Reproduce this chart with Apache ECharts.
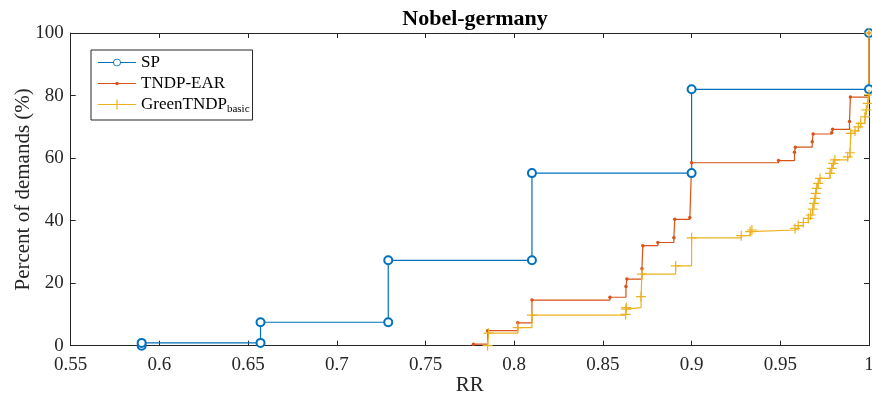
<!DOCTYPE html>
<html>
<head>
<meta charset="utf-8">
<script src="https://cdn.jsdelivr.net/npm/echarts@6/dist/echarts.min.js"></script>
<style>html,body{margin:0;padding:0;background:#fff}#c{width:872px;height:403px}</style>
</head>
<body>
<div id="c"></div>
<script>
// ---- data ----
const xTicks = [0.55, 0.6, 0.65, 0.7, 0.75, 0.8, 0.85, 0.9, 0.95, 1];
const yTicks = [0, 20, 40, 60, 80, 100];

const spX = [0.59, 0.59, 0.657, 0.657, 0.729, 0.729, 0.81, 0.81, 0.9, 0.9, 1.0, 1.0];
const spY = [0, 0.9, 0.9, 7.5, 7.5, 27.3, 27.3, 55.2, 55.2, 82, 82, 100];

const earX = [0.777, 0.785, 0.802, 0.81, 0.854, 0.863, 0.8635, 0.872, 0.8725, 0.881, 0.890, 0.8905,
              0.899, 0.9, 0.949, 0.958, 0.9585, 0.968, 0.9685, 0.979, 0.9795, 0.989, 0.9895, 1.0];
const earY = [0.5, 4.8, 7.3, 14.6, 15.5, 18.9, 21.3, 24.6, 32.0, 33.0, 34.5, 40.4,
              41.0, 58.5, 59.2, 61.9, 63.5, 65.2, 67.7, 68.1, 69.2, 71.7, 79.5, 100];

const greenX = [0.785, 0.7855, 0.802, 0.81, 0.8628, 0.863, 0.8632, 0.8715, 0.872, 0.891, 0.90,
                0.928, 0.933, 0.934, 0.9583, 0.9601, 0.963, 0.9658, 0.9671, 0.9683, 0.969, 0.9696,
                0.970, 0.9705, 0.9714, 0.9724, 0.978, 0.979, 0.9799, 0.9808, 0.988, 0.9893, 0.9897,
                0.9921, 0.994, 0.9953, 0.9977, 0.9985, 0.9993, 1.0, 1.0];
const greenY = [0, 4.0, 5.8, 9.8, 10.0, 11.7, 12.2, 15.7, 22.9, 25.5, 34.5,
                35.2, 36.5, 37.0, 37.5, 38.4, 39.4, 40.7, 41.8, 43.7, 45.5, 47.1,
                48.7, 50.3, 51.9, 53.5, 55.1, 56.7, 58.3, 59.4, 60.4, 61.7, 67.9,
                68.7, 70.0, 71.1, 73.2, 75.4, 77.5, 80.2, 100];

const seriesNames = ['SP', 'TNDP-EAR', 'GreenTNDP_basic'];
const colors = ['#0072BD', '#D95319', '#EDB120'];

function zip(xs, ys) { return xs.map((x, i) => [x, ys[i]]); }

const FONT = 'Liberation Serif';
const AX = '#262626';
const plusPath = 'path://M-0.12,-1 L0.12,-1 L0.12,-0.12 L1,-0.12 L1,0.12 L0.12,0.12 L0.12,1 L-0.12,1 L-0.12,0.12 L-1,0.12 L-1,-0.12 L-0.12,-0.12 Z';

// legend icons (38 x 12 box; tiny corner triangles fix the bounding box)
const corners = 'M0,0 L0.01,0 L0,0.01 Z M38,12 L37.99,12 L38,11.99 Z ';
const iconSP = 'path://' + corners +
  'M0,5.5 L15.3,5.5 L15.3,6.5 L0,6.5 Z M22.7,5.5 L38,5.5 L38,6.5 L22.7,6.5 Z ' +
  'M22.8,6 A3.8,3.8 0 1 1 15.2,6 A3.8,3.8 0 1 1 22.8,6 Z ' +
  'M22,6 A3,3 0 1 0 16,6 A3,3 0 1 0 22,6 Z';
const iconEAR = 'path://' + corners +
  'M0,5.4 L38,5.4 L38,6.6 L0,6.6 Z ' +
  'M20.8,6 A1.8,1.8 0 1 1 17.2,6 A1.8,1.8 0 1 1 20.8,6 Z';
const iconGreen = 'path://' + corners +
  'M0,5.4 L38,5.4 L38,6.6 L0,6.6 Z ' +
  'M18.4,1 L19.6,1 L19.6,11 L18.4,11 Z ' +
  'M14,5.4 L24,5.4 L24,6.6 L14,6.6 Z';

const chart = echarts.init(document.getElementById('c'), null, {renderer: 'canvas'});

const baseX = {
  type: 'value', min: xTicks[0], max: xTicks[xTicks.length - 1], interval: 0.05,
  splitLine: {show: false},
  axisLine: {show: true, onZero: false, lineStyle: {color: AX, width: 1}},
  axisTick: {show: true, inside: true, length: 5, lineStyle: {color: AX}},
};
const baseY = {
  type: 'value', min: yTicks[0], max: yTicks[yTicks.length - 1], interval: 20,
  splitLine: {show: false},
  axisLine: {show: true, onZero: false, lineStyle: {color: AX, width: 1}},
  axisTick: {show: true, inside: true, length: 5, lineStyle: {color: AX}},
};

chart.setOption({
  animation: false,
  backgroundColor: '#fff',
  title: {
    text: 'Nobel-germany', left: 470, top: 3, textAlign: 'center',
    textStyle: {fontFamily: FONT, fontSize: 22, fontWeight: 'bold', color: '#000'}
  },
  grid: {left: 70.7, right: 3, top: 33, bottom: 57.3, containLabel: false, outerBoundsMode: 'none'},
  legend: {
    orient: 'vertical', left: 91, top: 50,
    data: [
      {name: seriesNames[0], icon: iconSP},
      {name: seriesNames[1], icon: iconEAR},
      {name: seriesNames[2], icon: iconGreen}
    ],
    itemWidth: 38, itemHeight: 12, itemGap: 0,
    padding: [2, 3, 5, 7],
    itemStyle: {borderWidth: 0},
    borderColor: AX, borderWidth: 1, backgroundColor: '#fff',
    formatter: n => n === 'GreenTNDP_basic' ? 'GreenTNDP{sub|basic}' : n,
    textStyle: {
      fontFamily: FONT, fontSize: 17, lineHeight: 21, color: '#000',
      rich: {sub: {fontFamily: FONT, fontSize: 11, lineHeight: 11, verticalAlign: 'bottom', color: '#000'}}
    }
  },
  xAxis: [
    Object.assign({}, baseX, {
      position: 'bottom', name: 'RR', nameLocation: 'middle', nameGap: 29, nameMoveOverlap: false,
      nameTextStyle: {fontFamily: FONT, fontSize: 21, color: AX},
      axisLabel: {fontFamily: FONT, fontSize: 19, color: AX, margin: 10,
                  formatter: v => String(+v.toFixed(2))}
    }),
    Object.assign({}, baseX, {position: 'top', axisLabel: {show: false}})
  ],
  yAxis: [
    Object.assign({}, baseY, {
      position: 'left', name: 'Percent of demands (%)', nameLocation: 'middle', nameGap: 37, nameMoveOverlap: false,
      nameTextStyle: {fontFamily: FONT, fontSize: 21, color: AX},
      axisLabel: {fontFamily: FONT, fontSize: 19, color: AX, margin: 7}
    }),
    Object.assign({}, baseY, {position: 'right', axisLabel: {show: false}})
  ],
  series: [
    {
      name: seriesNames[0], type: 'line', step: 'end', data: zip(spX, spY),
      xAxisIndex: 0, yAxisIndex: 0, clip: false, showAllSymbol: true,
      symbol: 'emptyCircle', symbolSize: 8,
      lineStyle: {color: colors[0], width: 1.2},
      itemStyle: {color: colors[0], borderColor: colors[0], borderWidth: 1.1}
    },
    {
      name: seriesNames[1], type: 'line', step: 'end', data: zip(earX, earY),
      xAxisIndex: 0, yAxisIndex: 0, clip: false, showAllSymbol: true,
      symbol: 'circle', symbolSize: 3.5,
      lineStyle: {color: colors[1], width: 1.2},
      itemStyle: {color: colors[1]}
    },
    {
      name: seriesNames[2], type: 'line', step: 'end', data: zip(greenX, greenY),
      xAxisIndex: 0, yAxisIndex: 0, clip: false, showAllSymbol: true,
      symbol: plusPath, symbolSize: 10,
      lineStyle: {color: colors[2], width: 1.2},
      itemStyle: {color: colors[2]}
    }
  ]
});
</script>
</body>
</html>
